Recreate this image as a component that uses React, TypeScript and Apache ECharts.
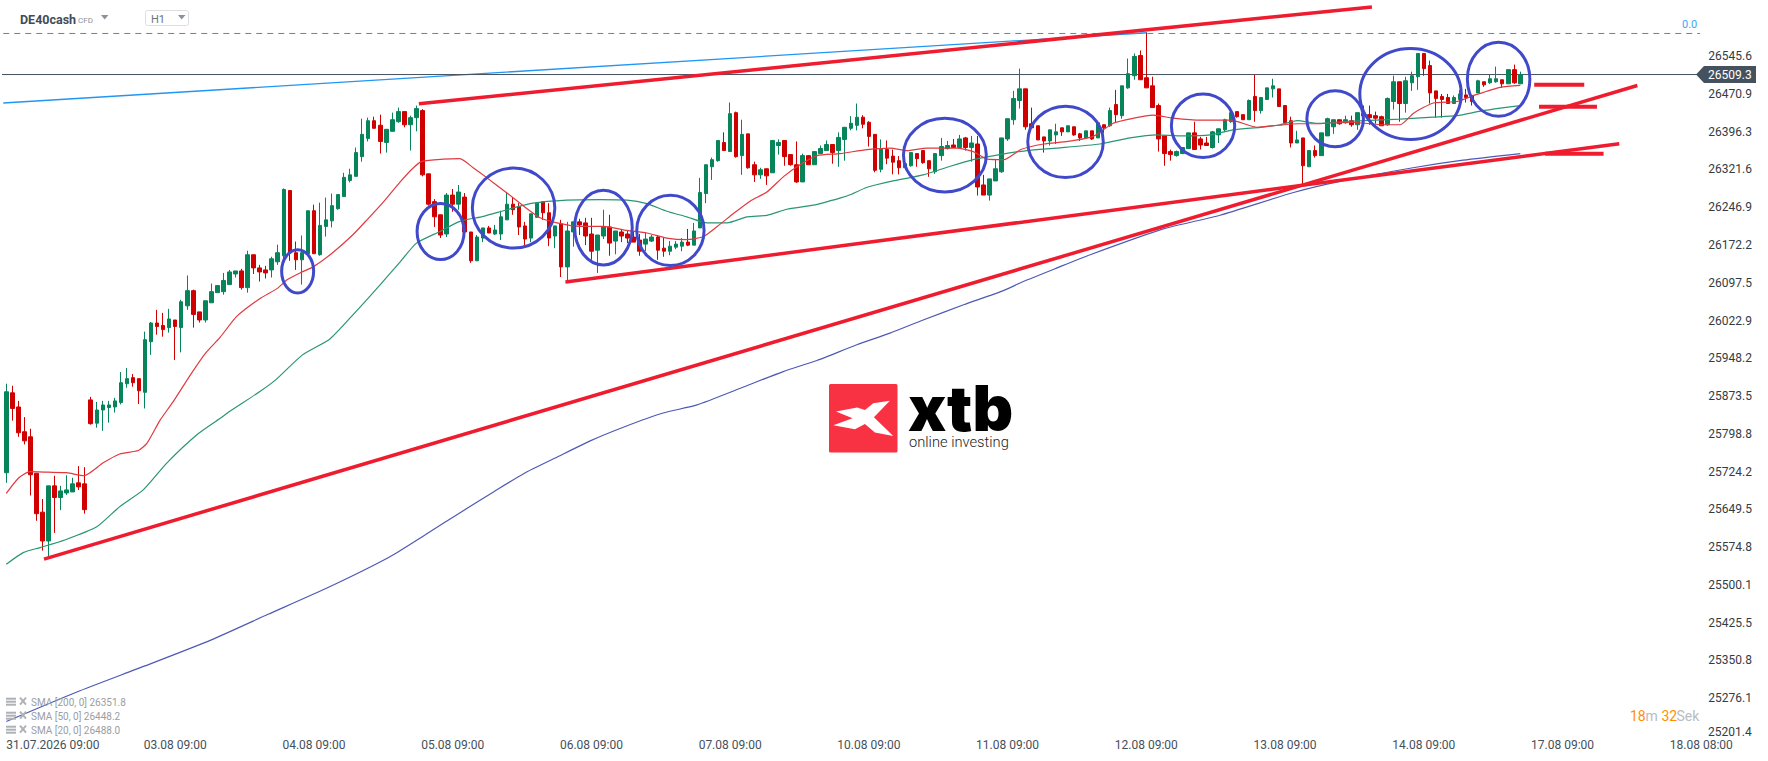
import React, { useEffect, useRef } from "react";
import * as echarts from "echarts";

// Hourly candles as [open, close, low, high]
const candles: number[][] = [
[25722,25882,25702,25898],[25880,25849,25825,25894],[25852,25801,25793,25864],[25803,25785,25778,25832],[25793,25718,25677,25809],
[25721,25641,25627,25721],[25644,25587,25568,25670],[25587,25696,25556,25696],[25696,25673,25603,25716],[25673,25686,25648,25696],
[25682,25688,25678,25717],[25684,25700,25684,25712],[25702,25694,25688,25735],[25700,25649,25641,25733],[25866,25819,25817,25872],
[25820,25846,25811,25862],[25846,25856,25805,25864],[25851,25856,25821,25864],[25852,25864,25841,25870],[25861,25900,25857,25921],
[25898,25908,25890,25929],[25910,25900,25892,25917],[25908,25884,25858,25908],[25881,25985,25849,26001],[25981,26018,25955,26020],
[26018,26011,25995,26044],[26013,26005,25991,26038],[26009,26026,25999,26046],[26024,26011,25945,26024],[26009,26060,25960,26064],
[26052,26082,26044,26112],[26082,26035,26009,26084],[26040,26024,26019,26040],[26024,26062,26019,26062],[26058,26080,26058,26096],
[26078,26092,26078,26092],[26080,26102,26074,26117],[26094,26119,26094,26123],[26115,26121,26108,26121],[26121,26088,26084,26125],
[26088,26153,26078,26161],[26153,26127,26115,26153],[26127,26119,26100,26133],[26123,26117,26106,26131],[26123,26145,26108,26149],
[26139,26157,26133,26173],[26151,26282,26143,26284],[26280,26157,26141,26280],[26157,26143,26123,26179],[26143,26157,26094,26191],
[26155,26240,26155,26240],[26240,26155,26155,26252],[26153,26211,26151,26256],[26209,26222,26189,26266],[26220,26250,26207,26274],
[26244,26272,26242,26272],[26268,26306,26268,26315],[26300,26311,26296,26323],[26308,26355,26308,26365],[26347,26391,26337,26422],
[26383,26418,26377,26424],[26418,26403,26403,26426],[26409,26377,26353,26430],[26375,26401,26355,26401],[26397,26420,26397,26434],
[26416,26436,26414,26444],[26436,26410,26405,26436],[26410,26424,26359,26428],[26424,26442,26397,26448],[26438,26311,26308,26441],
[26313,26253,26250,26313],[26258,26228,26208,26263],[26232,26192,26186,26232],[26194,26271,26188,26275],[26271,26253,26238,26283],
[26253,26277,26242,26291],[26267,26198,26198,26275],[26198,26141,26137,26198],[26141,26188,26141,26192],[26186,26206,26178,26206],
[26206,26196,26196,26210],[26194,26202,26192,26212],[26194,26228,26182,26240],[26222,26253,26222,26277],[26253,26242,26232,26267],
[26248,26208,26192,26255],[26210,26184,26172,26218],[26186,26234,26178,26234],[26227,26255,26227,26255],[26258,26236,26222,26258],
[26236,26186,26170,26255],[26190,26210,26166,26210],[26214,26129,26109,26222],[26129,26200,26099,26218],[26198,26218,26169,26218],
[26218,26212,26192,26224],[26216,26190,26172,26226],[26194,26160,26143,26226],[26162,26192,26117,26192],[26190,26208,26184,26242],
[26208,26176,26151,26232],[26180,26200,26154,26200],[26198,26190,26178,26204],[26194,26186,26176,26202],[26188,26178,26178,26198],
[26182,26160,26151,26194],[26174,26184,26160,26196],[26180,26188,26178,26192],[26188,26162,26143,26192],[26166,26160,26149,26186],
[26160,26170,26152,26180],[26168,26174,26164,26180],[26170,26178,26160,26186],[26178,26172,26170,26204],[26172,26200,26172,26216],
[26206,26276,26206,26305],[26274,26331,26255,26331],[26327,26341,26301,26345],[26339,26379,26337,26379],[26375,26359,26359,26395],
[26357,26432,26357,26454],[26434,26347,26345,26436],[26349,26391,26311,26420],[26392,26325,26323,26392],[26331,26311,26297,26337],
[26311,26321,26303,26325],[26323,26309,26291,26323],[26315,26379,26315,26380],[26369,26375,26351,26381],[26379,26347,26329,26379],
[26351,26331,26329,26351],[26331,26297,26295,26377],[26297,26349,26297,26353],[26349,26331,26331,26349],[26331,26357,26331,26357],
[26353,26363,26353,26369],[26359,26371,26359,26379],[26371,26355,26333,26371],[26359,26385,26327,26395],[26381,26405,26339,26405],
[26403,26413,26399,26427],[26409,26425,26399,26452],[26425,26411,26403,26429],[26415,26387,26367,26417],[26391,26320,26316,26391],
[26322,26363,26316,26381],[26361,26344,26332,26379],[26348,26336,26312,26361],[26339,26325,26312,26348],[26325,26333,26325,26349],
[26329,26355,26327,26355],[26353,26343,26327,26353],[26359,26335,26333,26359],[26339,26323,26307,26339],[26317,26353,26313,26353],
[26349,26367,26339,26384],[26363,26369,26361,26378],[26370,26365,26365,26382],[26365,26382,26365,26390],[26384,26365,26359,26386],
[26365,26374,26337,26388],[26372,26287,26270,26388],[26291,26271,26271,26311],[26271,26303,26260,26303],[26299,26323,26299,26341],
[26317,26384,26315,26384],[26382,26422,26378,26422],[26420,26462,26410,26477],[26458,26481,26442,26521],[26481,26406,26400,26481],
[26412,26404,26404,26444],[26408,26380,26380,26408],[26386,26378,26355,26386],[26378,26400,26369,26400],[26390,26396,26372,26412],
[26404,26396,26388,26404],[26396,26408,26396,26408],[26406,26390,26388,26406],[26392,26384,26378,26394],[26384,26398,26384,26398],
[26398,26382,26380,26398],[26384,26414,26384,26414],[26410,26404,26394,26410],[26408,26438,26406,26444],[26450,26430,26414,26479],
[26428,26487,26422,26487],[26483,26511,26481,26541],[26507,26545,26499,26551],[26547,26499,26499,26557],[26503,26483,26483,26592],
[26487,26444,26444,26505],[26448,26382,26357,26452],[26388,26353,26329,26388],[26357,26351,26339,26361],[26349,26357,26347,26359],
[26353,26365,26353,26365],[26363,26394,26363,26394],[26394,26361,26361,26416],[26382,26370,26361,26386],[26374,26369,26369,26386],
[26365,26396,26363,26398],[26390,26402,26374,26402],[26400,26420,26396,26422],[26416,26434,26414,26440],[26436,26426,26424,26436],
[26430,26420,26420,26430],[26420,26458,26420,26460],[26466,26438,26416,26509],[26438,26464,26432,26464],[26460,26483,26460,26483],
[26481,26487,26464,26501],[26481,26446,26446,26481],[26448,26414,26412,26448],[26418,26374,26365,26426],[26374,26380,26374,26398],
[26384,26329,26293,26384],[26327,26359,26327,26359],[26359,26349,26345,26369],[26349,26394,26349,26394],[26388,26422,26388,26424],
[26406,26420,26392,26420],[26420,26412,26410,26420],[26414,26420,26412,26428],[26418,26410,26406,26428],[26410,26434,26400,26434],
[26432,26428,26428,26448],[26430,26424,26410,26448],[26428,26423,26412,26436],[26426,26408,26408,26428],[26410,26462,26408,26464],
[26456,26495,26440,26507],[26495,26452,26416,26495],[26452,26497,26434,26505],[26493,26507,26477,26515],[26505,26551,26479,26551],
[26551,26521,26507,26551],[26527,26473,26452,26537],[26477,26462,26424,26477],[26466,26460,26424,26471],[26464,26452,26452,26471],
[26452,26464,26452,26468],[26460,26471,26460,26479],[26469,26464,26454,26481],[26468,26456,26448,26469],[26473,26497,26473,26499],
[26495,26489,26485,26495],[26493,26501,26491,26509],[26495,26501,26493,26525],[26499,26491,26483,26499],[26491,26519,26491,26519],
[26519,26493,26491,26529],[26491,26509.3,26491,26515],
];

// Indicators as [bar position, price], read at irregular spots along each line
const sma20: number[][] = [
[0,25681],[2,25711],[3.9,25724],[7,25723],[10,25722],[12.9,25716],[16,25741],[18.8,25759],[21.9,25766],[23.3,25780],[25.5,25826],[27.7,25863],[30.5,25915],[33,25958],[35.4,25989],
[38.2,26031],[42,26066],[45,26087],[46.6,26104],[48.7,26117],[51,26130],[54.2,26158],[57.5,26193],[59.8,26222],[62.5,26257],[65.3,26297],[67.5,26325],[69,26338],[72.4,26342],[75.2,26343],
[77.4,26325],[79.7,26305],[83,26275],[85.8,26249],[88.5,26226],[91.3,26216],[95.1,26209],[99,26209],[102.9,26201],[106.2,26196],[109.5,26186],[112.8,26183],[115.6,26189],[118.4,26214],
[120.6,26235],[123.3,26259],[126.1,26277],[128.9,26308],[131.6,26331],[134.4,26349],[138.2,26353],[142.7,26361],[146.6,26364],[149.3,26359],[152.6,26364],[157.6,26364],[160.3,26357],
[162.6,26342],[165.4,26341],[168.2,26361],[172,26372],[176,26377],[180.2,26387],[183.5,26413],[186.9,26423],[190.1,26429],[193.5,26423],[198,26419],[203,26419],[207.4,26405],[210.8,26409],
[214.1,26412],[217.4,26412],[222.9,26415],[228.4,26410],[231.1,26410],[233.3,26433],[236.6,26453],[240.5,26456],[243.8,26470],[247.7,26484],[251,26488],
];
const sma50: number[][] = [
[0,25541],[2.8,25564],[5.6,25574],[9.7,25589],[15,25615],[18.8,25655],[22.7,25688],[26.6,25741],[31.6,25797],[35.4,25829],[37,25843],[42.1,25883],[44.7,25906],[49.1,25955],[53.6,25986],
[57,26028],[60.3,26071],[63.7,26117],[65.3,26139],[68,26176],[71.9,26199],[75.2,26219],[79.1,26229],[83,26242],[87.3,26255],[92.9,26261],[98.4,26262],[102.9,26261],[106.2,26254],
[109.5,26239],[112.8,26228],[116.2,26216],[119.5,26216],[122.8,26228],[126.1,26231],[129.4,26243],[133.8,26251],[138.2,26265],[140,26272],[142.6,26286],[147,26299],[152,26311],
[156.5,26328],[160.3,26341],[164.7,26351],[169.2,26359],[174.2,26364],[181.3,26372],[186.3,26384],[190.7,26390],[195,26388],[199.6,26390],[203.4,26400],[207.9,26405],[211.2,26410],
[214,26418],[217.4,26413],[222.8,26417],[231.1,26421],[236.5,26425],[240.5,26428],[244.4,26437],[247.7,26443],[251,26448],
];
const sma200: number[][] = [
[0,25230],[11.6,25288],[23,25340],[33.9,25391],[43.4,25442],[53.5,25496],[63.6,25556],[69.4,25599],[75.1,25642],[80.9,25685],[85.9,25721],[91,25751],[96.8,25785],[102.3,25812],[108.9,25840],
[114.5,25856],[121.7,25889],[128.8,25922],[134.4,25944],[141,25975],[146.5,25998],[152,26024],[158.7,26054],[165.3,26082],[168.6,26100],[174.2,26127],[179.7,26153],[191.8,26204],
[201.2,26231],[213.4,26276],[221.1,26298],[233.2,26325],[241.5,26340],[251,26353],
];

// Drawn annotations, each as two [bar position, price] ends
const redLines: number[][][] = [
  [[68.4, 26451.4], [226.4, 26643]],
  [[92.7, 26099.2], [267.4, 26372.3]],
  [[6.25, 25551.2], [270.4, 26487.6]],
];
const redDashes: number[][][] = [
  [[253.3, 26489], [261.6, 26489]],
  [[254.1, 26445.5], [263.7, 26445.5]],
  [[255.1, 26352.5], [264.8, 26352.5]],
];
const blueLine: number[][] = [[-0.5, 26453], [189.1, 26591.9]];
const fibLevel = 26590.5;
const lastPrice = 26509.3;

// Hand-drawn ellipses as [centre bar, centre price, width in bars, height in price]
const ellipses: number[][] = [
  [48.3, 26120.2, 5.3, 85.8],
  [72.0, 26198.8, 7.8, 110.8],
  [84.1, 26245.3, 13.68, 158.2],
  [99.0, 26206.7, 9.54, 147.6],
  [110.1, 26201.1, 11.16, 138.6],
  [155.6, 26350.1, 13.74, 145.6],
  [175.6, 26376.2, 12.52, 141.2],
  [198.4, 26407.9, 10.5, 125.4],
  [220.3, 26421.8, 9.38, 110.8],
  [232.8, 26470.8, 16.82, 180],
  [247.4, 26500.1, 10.36, 146.4],
];

const yTicks = [26545.6,26470.9,26396.3,26321.6,26246.9,26172.2,26097.5,26022.9,25948.2,25873.5,25798.8,25724.2,25649.5,25574.8,25500.1,25425.5,25350.8,25276.1];
const bottomTick = "25201.4";
const dateLabels = ["31.07.2026 09:00","03.08 09:00","04.08 09:00","05.08 09:00","06.08 09:00","07.08 09:00","10.08 09:00","11.08 09:00","12.08 09:00","13.08 09:00","14.08 09:00","17.08 09:00","18.08 08:00"];
const dateBars = [0,28,51,74,97,120,143,166,189,212,235,258,281];
const legendRows = ["SMA [200, 0] 26351.8","SMA [50, 0] 26448.2","SMA [20, 0] 26488.0"];
const BAR_COUNT = 282;

const RED = "#ee1c2e";
const FONT = "Roboto";

function legendIcon(y: number) {
  const grey = "#aeb2b6";
  const out: any[] = [];
  [-4, -1, 2].forEach((d) => out.push({ type: "rect", z: 20, shape: { x: 6, y: y + d, width: 10, height: 2 }, style: { fill: grey } }));
  out.push({ type: "line", z: 20, shape: { x1: 20, y1: y - 4, x2: 26, y2: y + 3 }, style: { stroke: grey, lineWidth: 2 } });
  out.push({ type: "line", z: 20, shape: { x1: 26, y1: y - 4, x2: 20, y2: y + 3 }, style: { stroke: grey, lineWidth: 2 } });
  return out;
}

export default function App() {
  const ref = useRef<HTMLDivElement>(null);
  useEffect(() => {
    const chart = echarts.init(ref.current!, undefined, { renderer: "svg" });
    const categories: string[] = Array.from({ length: BAR_COUNT }, () => "");
    dateBars.forEach((b, i) => (categories[b] = dateLabels[i]));

    const line = (data: number[][], color: string, width: number, z: number, type: any = "solid", smooth: any = false) => ({
      type: "line", xAxisIndex: 1, yAxisIndex: 0, data, symbol: "none", silent: true, z, clip: false, smooth,
      lineStyle: { color, width, type }, itemStyle: { color },
    });

    const timer = (text: string, x: number, fill: string) => ({
      type: "text", x, y: 716, style: { text, fontFamily: FONT, fontSize: 14, fill, verticalAlign: "middle" },
    });

    const graphic: any[] = [
      // header
      { type: "text", x: 20, y: 19, style: { text: "DE40cash", fontFamily: FONT, fontSize: 12.5, fontWeight: 700, fill: "#414c56", verticalAlign: "middle" } },
      { type: "text", x: 78, y: 20, style: { text: "CFD", fontFamily: FONT, fontSize: 8, fill: "#8c9298", verticalAlign: "middle" } },
      { type: "polygon", shape: { points: [[101, 15], [108.5, 15], [104.7, 19.5]] }, style: { fill: "#8c9298" } },
      { type: "rect", shape: { x: 145.5, y: 10.5, width: 43, height: 15, r: 2 }, style: { fill: "#fff", stroke: "#dcdfe2", lineWidth: 1 } },
      { type: "text", x: 151, y: 19.5, style: { text: "H1", fontFamily: FONT, fontSize: 11, fill: "#6c747b", verticalAlign: "middle" } },
      { type: "polygon", shape: { points: [[178, 15], [185.5, 15], [181.7, 19.5]] }, style: { fill: "#8c9298" } },
      // fib label
      { type: "text", x: 1682, y: 24.5, style: { text: "0.0", fontFamily: FONT, fontSize: 11, fill: "#42a5f5", verticalAlign: "middle" } },
      // price tag
      { type: "polygon", z: 30, shape: { points: [[1696, 74.5], [1704, 66], [1756, 66], [1756, 83], [1704, 83]] }, style: { fill: "#45525e" } },
      { type: "text", z: 31, x: 1708, y: 75, style: { text: lastPrice.toFixed(1), fontFamily: FONT, fontSize: 12, fill: "#ffffff", verticalAlign: "middle" } },
      // lowest price-scale label sits just above the axis bottom
      { type: "text", x: 1708, y: 731.7, style: { text: bottomTick, fontFamily: FONT, fontSize: 12, fill: "#333c45", verticalAlign: "middle" } },
      // countdown
      timer("18", 1630, "#ff8f00"),
      timer("m", 1645.5, "#b9bcc0"),
      timer("32", 1661.5, "#ff8f00"),
      timer("Sek", 1676.5, "#b9bcc0"),
      // logo
      { type: "rect", z: 1, shape: { x: 829, y: 384, width: 68.5, height: 68.5, r: 1.5 }, style: { fill: "#f83242" } },
      { type: "polygon", z: 2, x: 780, y: 360, scaleX: 1 / 3, scaleY: 1 / 3, shape: { points: [[168, 155], [232, 143], [255, 150], [280, 130], [330, 122], [282, 172], [340, 228], [285, 218], [255, 192], [225, 208], [160, 196], [218, 175]] }, style: { fill: "#ffffff" } },
      { type: "text", z: 2, x: 908, y: 408, style: { text: "xtb", fontFamily: "Inter", fontSize: 63, fontWeight: 900, fill: "#000000", verticalAlign: "middle" } },
      { type: "text", z: 2, x: 909, y: 442, style: { text: "online investing", fontFamily: FONT, fontSize: 14.7, fontWeight: 300, fill: "#1c1c1c", verticalAlign: "middle" } },
    ];
    legendRows.forEach((t, i) => {
      const y = 701.7 + i * 14;
      graphic.push(...legendIcon(y));
      graphic.push({ type: "text", z: 20, x: 31, y: y + 0.5, style: { text: t, fontFamily: FONT, fontSize: 10, fill: "#9a9ea3", verticalAlign: "middle" } });
    });

    chart.setOption({
      animation: false,
      backgroundColor: "#ffffff",
      grid: { left: 3.28, top: 0, width: BAR_COUNT * 6.032, height: 736, containLabel: false },
      xAxis: [
        {
          type: "category", data: categories, boundaryGap: true,
          axisLine: { show: false }, axisTick: { show: false }, splitLine: { show: false },
          axisLabel: {
            show: true, margin: 3, color: "#46505a", fontFamily: FONT, fontSize: 12, alignMinLabel: "left",
            hideOverlap: false,
            interval: (_i: number, v: string) => v !== "",
          },
        },
        { type: "value", min: -0.5, max: BAR_COUNT - 0.5, show: false, splitLine: { show: false } },
      ],
      yAxis: {
        type: "value", position: "right", min: 25201.4, max: 26656.7, scale: true,
        axisLine: { show: false }, axisTick: { show: false }, splitLine: { show: false },
        axisLabel: {
          customValues: yTicks, margin: 4, color: "#333c45", fontFamily: FONT, fontSize: 12,
          formatter: (v: number) => v.toFixed(1),
        },
      },
      graphic,
      series: [
        line(blueLine, "#2196f3", 1.3, 2),
        line([[-0.5, fibLevel], [280.8, fibLevel]], "#2196f3", 1, 2, [6, 5]),
        line([[-0.8, lastPrice], [BAR_COUNT - 0.5, lastPrice]], "#45525e", 1, 2),
        {
          type: "candlestick", xAxisIndex: 0, yAxisIndex: 0, data: candles, barWidth: 4, z: 3, silent: true,
          itemStyle: { color: "#07845a", borderColor: "#07845a", color0: "#d00000", borderColor0: "#d00000", borderWidth: 1 },
        },
        line(sma200, "#4f59b4", 1.2, 4, "solid", 0.2),
        line(sma50, "#2a9573", 1.2, 4, "solid", 0.2),
        line(sma20, "#e0393f", 1.2, 4, "solid", 0.2),
        ...redLines.map((d) => line(d, RED, 3.5, 5)),
        ...redDashes.map((d) => line(d, RED, 4, 5)),
        {
          type: "custom", coordinateSystem: "cartesian2d", xAxisIndex: 1, yAxisIndex: 0, data: ellipses, z: 6, silent: true, clip: false,
          encode: { x: 0, y: 1 },
          renderItem: (_p: any, api: any) => {
            const c = api.coord([api.value(0), api.value(1)]);
            const s = api.size([api.value(2), api.value(3)]);
            return {
              type: "ellipse",
              shape: { cx: c[0], cy: c[1], rx: s[0] / 2, ry: s[1] / 2 },
              style: { fill: "none", stroke: "#4049c9", lineWidth: 3 },
            };
          },
        },
      ],
    });
    return () => chart.dispose();
  }, []);
  return <div ref={ref} style={{ position: "fixed", left: 0, top: 0, width: 1768, height: 761 }} />;
}
